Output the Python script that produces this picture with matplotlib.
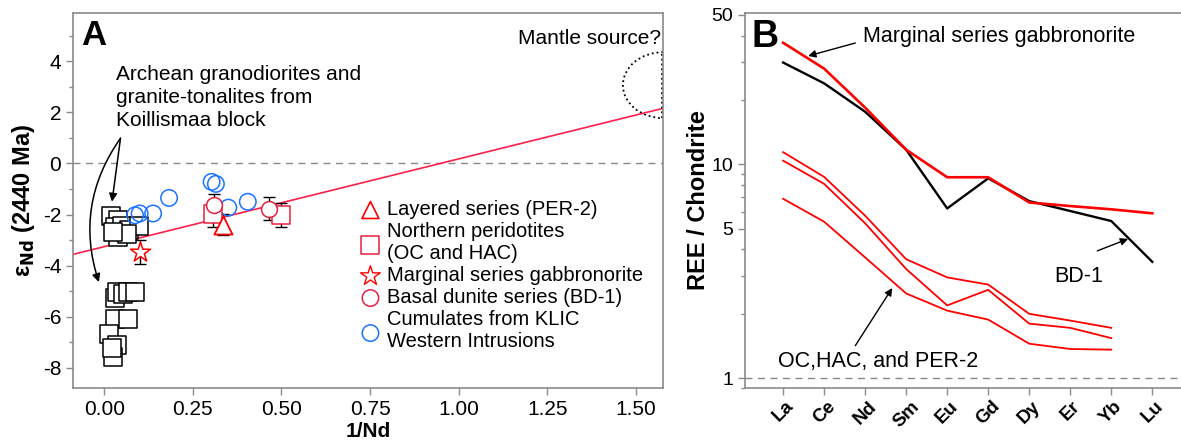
import matplotlib
matplotlib.use("Agg")
import matplotlib.pyplot as plt
import numpy as np
from matplotlib.patches import Ellipse

plt.rcParams['font.family'] = ['Liberation Sans', 'DejaVu Sans']
plt.rcParams['axes.unicode_minus'] = False

# ---- Panel A data (1/Nd vs eps Nd) ----
arch_x = [0.020, 0.040, 0.030, 0.050, 0.070, 0.098, 0.040, 0.065, 0.025,
          0.030, 0.035, 0.054, 0.068, 0.087, 0.030, 0.068, 0.014, 0.035, 0.025, 0.022]
arch_y = [-2.05, -2.20, -2.50, -2.45, -2.60, -2.45, -2.90, -2.75, -2.70,
          -5.29, -5.03, -5.10, -5.03, -5.03, -6.08, -6.08, -6.67, -7.12, -7.58, -7.25]

klic_x = [0.303, 0.315, 0.183, 0.138, 0.100, 0.087, 0.350, 0.405]
klic_y = [-0.72, -0.80, -1.35, -1.96, -1.96, -2.03, -1.73, -1.50]

per2_x, per2_y, per2_err = [0.334], [-2.40], [0.42]
nper_x, nper_y, nper_err = [0.307, 0.500], [-1.98, -2.02], [0.50, 0.48]
msg_x, msg_y, msg_err = [0.100], [-3.45], [0.47]
bd1_x, bd1_y, bd1_err = [0.310, 0.465], [-1.62, -1.77], [0.42, 0.45]

fit_slope, fit_intercept = 3.44, -3.26
mantle_center, mantle_w, mantle_h = (1.576, 3.07), 0.226, 2.58

# ---- Panel B data (REE / chondrite) ----
ree = ['La', 'Ce', 'Nd', 'Sm', 'Eu', 'Gd', 'Dy', 'Er', 'Yb', 'Lu']
msg_ree = [37.0, 28.0, 18.4, 11.7, 8.7, 8.7, 6.63, 6.38, 6.16, 5.9]
bd1_ree = [29.9, 23.9, 17.6, 11.7, 6.22, 8.6, 6.73, 6.05, 5.43, 3.5]
oc1_ree = [11.4, 8.73, 5.75, 3.60, 2.96, 2.74, 2.00, 1.86, 1.72]
oc2_ree = [10.4, 8.10, 5.30, 3.24, 2.19, 2.59, 1.80, 1.72, 1.54]
oc3_ree = [6.9, 5.39, 3.67, 2.49, 2.07, 1.88, 1.45, 1.37, 1.36]

spine_c = '#8a8a8a'
crimson = '#e8203f'
red = '#ff0000'
blue = '#1a73ff'

fig = plt.figure(figsize=(11.81, 4.46), dpi=100)
axA = fig.add_axes([0.0618, 0.130, 0.4996, 0.841])
axB = fig.add_axes([0.6308, 0.130, 0.3692, 0.841])

# ---------------- Panel A ----------------
axA.axhline(0, color='#888888', ls=(0, (5, 4)), lw=1)
xl = np.array([-0.088, 1.576])
axA.plot(xl, fit_slope * xl + fit_intercept, color='#ff1f4b', lw=1.2)

ell = Ellipse(mantle_center, mantle_w, mantle_h, fill=False, ls=':', lw=1.3, color='black')
axA.add_patch(ell)
axA.plot([1.574, 1.574], [mantle_center[1] - mantle_h / 2, mantle_center[1] + mantle_h / 2],
         ls=':', lw=1.3, color='black')

axA.scatter(arch_x, arch_y, marker='s', s=165, facecolor='white', edgecolor='black', lw=1.1, zorder=3)
axA.scatter(klic_x, klic_y, marker='o', s=140, facecolor='none', edgecolor=blue, lw=1.1, zorder=3)

eb = dict(fmt='none', ecolor='black', elinewidth=1, capsize=4, capthick=1, zorder=2)
axA.errorbar(nper_x, nper_y, yerr=nper_err, **eb)
axA.errorbar(bd1_x, bd1_y, yerr=bd1_err, **eb)
axA.errorbar(per2_x, per2_y, yerr=per2_err, **eb)
axA.errorbar(msg_x, msg_y, yerr=msg_err, **eb)

axA.scatter(nper_x, nper_y, marker='s', s=160, facecolor='white', edgecolor=crimson, lw=1.1, zorder=4)
axA.scatter(bd1_x, bd1_y, marker='o', s=130, facecolor='white', edgecolor=crimson, lw=1.1, zorder=4)
axA.scatter(per2_x, per2_y, marker='^', s=170, facecolor='white', edgecolor=red, lw=1.3, zorder=4)
axA.scatter(msg_x, msg_y, marker='*', s=230, facecolor='white', edgecolor=red, lw=1.1, zorder=4)

# legend
h = [
    axA.scatter([], [], marker='^', s=150, facecolor='none', edgecolor=red, lw=1.2),
    axA.scatter([], [], marker='s', s=170, facecolor='none', edgecolor=crimson, lw=1.1),
    axA.scatter([], [], marker='*', s=220, facecolor='none', edgecolor=red, lw=1.0),
    axA.scatter([], [], marker='o', s=140, facecolor='none', edgecolor=crimson, lw=1.1),
    axA.scatter([], [], marker='o', s=140, facecolor='none', edgecolor=blue, lw=1.1),
]
labels = ['Layered series (PER-2)', 'Northern peridotites\n(OC and HAC)',
          'Marginal series gabbronorite', 'Basal dunite series (BD-1)',
          'Cumulates from KLIC\nWestern Intrusions']
axA.legend(h, labels, loc='upper left', bbox_to_anchor=(0.47, 0.522), frameon=False,
           fontsize=14.5, handletextpad=0.2, labelspacing=0.15, borderaxespad=0,
           handlelength=1.2)

axA.text(0.013, 0.985, 'A', transform=axA.transAxes, fontsize=25, fontweight='bold', va='top')
axA.text(1.57, 4.91, 'Mantle source?', fontsize=15, ha='right', va='center')
axA.text(0.033, 3.85, 'Archean granodiorites and\ngranite-tonalites from\nKoillismaa block',
         fontsize=15, va='top', linespacing=1.25)
axA.annotate('', xy=(0.022, -1.5), xytext=(0.046, 0.99),
             arrowprops=dict(arrowstyle='-|>', color='black', lw=1.1, mutation_scale=12,
                             shrinkA=0, shrinkB=0))
axA.annotate('', xy=(-0.015, -4.65), xytext=(0.046, 0.99),
             arrowprops=dict(arrowstyle='-|>', color='black', lw=1.1, mutation_scale=12,
                             shrinkA=0, shrinkB=0, connectionstyle='arc3,rad=0.25'))

axA.set_xlim(-0.088, 1.576)
axA.set_ylim(-8.8, 5.9)
axA.set_xticks([0, 0.25, 0.5, 0.75, 1.0, 1.25, 1.5])
axA.set_xticklabels(['0.00', '0.25', '0.50', '0.75', '1.00', '1.25', '1.50'])
axA.set_yticks([-8, -6, -4, -2, 0, 2, 4])
axA.set_yticks(np.arange(-8, 6, 1), minor=True)
axA.tick_params(labelsize=15, color=spine_c, length=5, width=1)
axA.tick_params(which='minor', color=spine_c, length=3, width=1)
axA.set_xlabel('1/Nd', fontsize=15, fontweight='bold', labelpad=2)
axA.set_ylabel(r'ε$_{\mathbf{Nd}}$ (2440 Ma)', fontsize=17, fontweight='bold', labelpad=4)
for s in axA.spines.values():
    s.set_color(spine_c)
    s.set_linewidth(1.2)

# ---------------- Panel B ----------------
xi = np.arange(len(ree))
axB.axhline(1, color='#888888', ls=(0, (5, 4)), lw=1)
axB.plot(xi, bd1_ree, color='black', lw=1.7)
axB.plot(xi, msg_ree, color=red, lw=1.9)
for oc in (oc1_ree, oc2_ree, oc3_ree):
    axB.plot(xi[:len(oc)], oc, color=red, lw=1.3)

axB.set_yscale('log')
axB.set_ylim(0.9, 51)
axB.set_xlim(-0.93, 9.7)
axB.set_yticks([1, 5, 10, 50])
axB.set_yticklabels(['1', '5', '10', '50'])
axB.set_xticks(xi)
axB.set_xticklabels(ree, rotation=45, ha='center', fontsize=13.5, fontweight='bold')
axB.tick_params(axis='y', labelsize=14, color=spine_c, length=5, width=1)
axB.tick_params(axis='y', which='minor', color=spine_c, length=3, width=1, labelleft=False)
axB.tick_params(axis='x', color=spine_c, length=5, width=1, pad=2)
axB.set_ylabel('REE / Chondrite', fontsize=17, fontweight='bold', labelpad=1)
for s in axB.spines.values():
    s.set_color(spine_c)
    s.set_linewidth(1.2)
axB.spines['right'].set_visible(False)

axB.text(0.015, 0.985, 'B', transform=axB.transAxes, fontsize=27, fontweight='bold', va='top')
arr = dict(arrowstyle='-|>', color='black', lw=1, mutation_scale=11, shrinkA=0, shrinkB=0)
axB.text(1.95, 39.4, 'Marginal series gabbronorite', fontsize=15.5, va='center')
axB.annotate('', xy=(0.61, 32.1), xytext=(1.76, 36.9), arrowprops=arr)
axB.text(7.2, 3.0, 'BD-1', fontsize=15.5, ha='center', va='center')
axB.annotate('', xy=(8.41, 4.48), xytext=(7.66, 3.94), arrowprops=arr)
axB.text(2.32, 1.2, 'OC,HAC, and PER-2', fontsize=15.5, ha='center', va='center')
axB.annotate('', xy=(2.66, 2.64), xytext=(1.76, 1.42), arrowprops=arr)

fig.savefig('out.png', dpi=100)
